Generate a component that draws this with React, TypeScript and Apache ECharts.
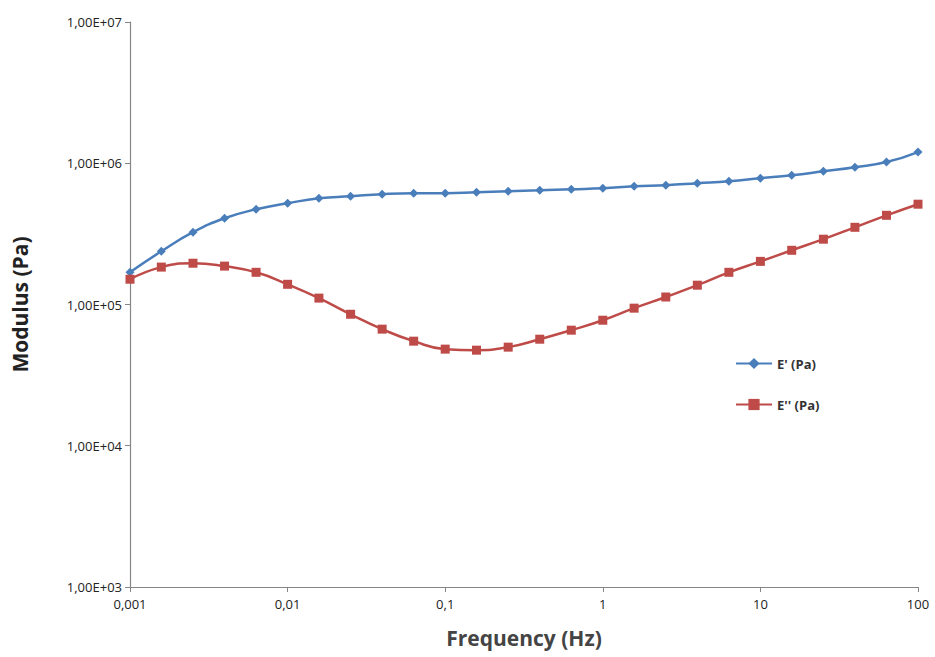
import React, { useEffect, useRef } from 'react';
import * as echarts from 'echarts';

const frequency = [
  0.001, 0.00158, 0.00251, 0.00398, 0.00631,
  0.01, 0.0158, 0.0251, 0.0398, 0.0631,
  0.1, 0.158, 0.251, 0.398, 0.631,
  1, 1.58, 2.51, 3.98, 6.31,
  10, 15.8, 25.1, 39.8, 63.1, 100,
];
const storageModulus = [
  1.69e5, 2.38e5, 3.25e5, 4.08e5, 4.72e5,
  5.21e5, 5.65e5, 5.84e5, 6.04e5, 6.13e5,
  6.13e5, 6.23e5, 6.34e5, 6.44e5, 6.55e5,
  6.65e5, 6.87e5, 6.99e5, 7.22e5, 7.46e5,
  7.83e5, 8.22e5, 8.77e5, 9.37e5, 1.02e6, 1.2e6,
];
const lossModulus = [
  1.51e5, 1.84e5, 1.96e5, 1.87e5, 1.69e5,
  1.39e5, 1.11e5, 8.53e4, 6.69e4, 5.5e4,
  4.83e4, 4.75e4, 4.99e4, 5.68e4, 6.58e4,
  7.74e4, 9.42e4, 1.13e5, 1.37e5, 1.69e5,
  2.02e5, 2.42e5, 2.9e5, 3.52e5, 4.28e5, 5.13e5,
];

const fmtX = (v: number) => String(v).replace('.', ',');
const fmtY = (v: number) => {
  const e = Math.round(Math.log10(v));
  return '1,00E+' + String(e).padStart(2, '0');
};

const App: React.FC = () => {
  const chartRef = useRef<HTMLDivElement>(null);

  useEffect(() => {
    document.body.style.margin = '0';
    const myChart = echarts.init(chartRef.current!, null, { renderer: 'svg' });
    const axisLine = { show: true, lineStyle: { color: '#868686', width: 1.2 } };
    const option: echarts.EChartsOption = {
      animation: false,
      textStyle: { fontFamily: 'Open Sans' },
      grid: { left: 130, right: 17, top: 22, bottom: 70 },
      legend: {
        orient: 'vertical',
        left: 730,
        top: 352,
        itemGap: 28,
        itemWidth: 36,
        textStyle: { fontSize: 13, fontWeight: 'bold', color: '#333' },
        data: ["E' (Pa)", "E'' (Pa)"],
      },
      xAxis: {
        type: 'log',
        logBase: 10,
        min: 0.001,
        max: 100,
        name: 'Frequency (Hz)',
        nameLocation: 'middle',
        nameGap: 40,
        nameTextStyle: { fontSize: 21, fontWeight: 'bold', color: '#444' },
        axisLine,
        axisTick: { show: true, inside: false, lineStyle: { color: '#868686' } },
        minorTick: { show: false },
        splitLine: { show: false },
        axisLabel: { formatter: fmtX, fontSize: 13, color: '#222', margin: 10 },
      },
      yAxis: {
        type: 'log',
        logBase: 10,
        min: 1e3,
        max: 1e7,
        name: 'Modulus (Pa)',
        nameLocation: 'middle',
        nameGap: 100,
        nameTextStyle: { fontSize: 21, fontWeight: 'bold', color: '#222' },
        axisLine,
        axisTick: { show: true, lineStyle: { color: '#868686' } },
        splitLine: { show: false },
        axisLabel: { formatter: fmtY, fontSize: 13, color: '#222' },
      },
      series: [
        {
          name: "E' (Pa)",
          type: 'line',
          smooth: true,
          symbol: 'diamond',
          symbolSize: 9,
          itemStyle: { color: '#4a7ebb' },
          lineStyle: { color: '#4a7ebb', width: 2.5 },
          data: frequency.map((f, i) => [f, storageModulus[i]]),
        },
        {
          name: "E'' (Pa)",
          type: 'line',
          smooth: true,
          symbol: 'rect',
          symbolSize: 9,
          itemStyle: { color: '#be4b48' },
          lineStyle: { color: '#be4b48', width: 2.5 },
          data: frequency.map((f, i) => [f, lossModulus[i]]),
        },
      ],
    };
    myChart.setOption(option);
    return () => myChart.dispose();
  }, []);

  return <div ref={chartRef} style={{ width: 935, height: 657 }} />;
};

export default App;
